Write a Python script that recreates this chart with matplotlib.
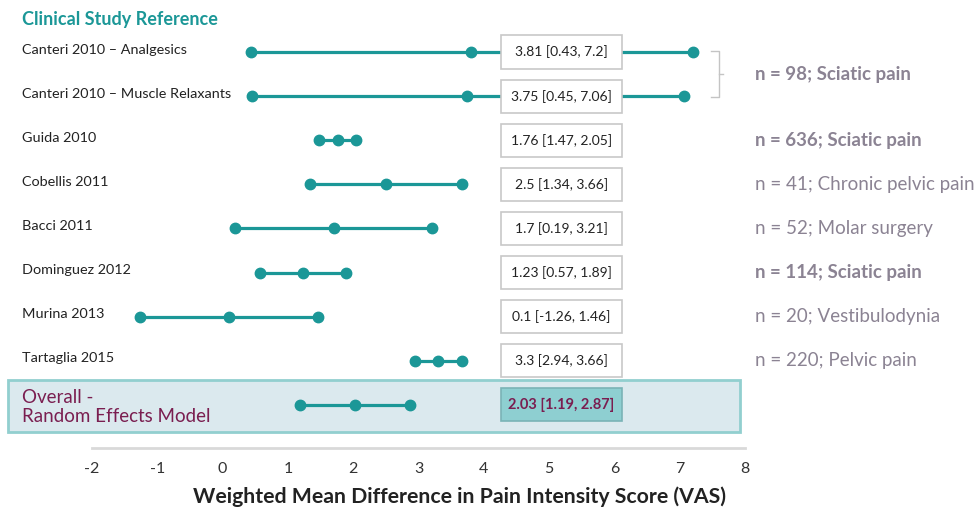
import matplotlib
matplotlib.use("Agg")
import matplotlib.pyplot as plt
import matplotlib.transforms as mtransforms
from matplotlib.patches import Rectangle

studies = ["Canteri 2010 \u2013 Analgesics", "Canteri 2010 \u2013 Muscle Relaxants",
           "Guida 2010", "Cobellis 2011", "Bacci 2011", "Dominguez 2012",
           "Murina 2013", "Tartaglia 2015"]
wmd = [3.81, 3.75, 1.76, 2.5, 1.7, 1.23, 0.1, 3.3]
ci_low = [0.43, 0.45, 1.47, 1.34, 0.19, 0.57, -1.26, 2.94]
ci_high = [7.2, 7.06, 2.05, 3.66, 3.21, 1.89, 1.46, 3.66]

overall_label = "Overall -\nRandom Effects Model"
overall = [1.19, 2.03, 2.87]

# right-hand notes: (row, text, bold)
notes = [(0.5, "n = 98; Sciatic pain", True),
         (2, "n = 636; Sciatic pain", True),
         (3, "n = 41; Chronic pelvic pain", False),
         (4, "n = 52; Molar surgery", False),
         (5, "n = 114; Sciatic pain", True),
         (6, "n = 20; Vestibulodynia", False),
         (7, "n = 220; Pelvic pain", False)]

xticks = list(range(-2, 9))

teal = "#1b9797"
maroon = "#7a1e50"
note_col = "#8b8393"
label_font = "Lato"

W, H = 978, 516
fig = plt.figure(figsize=(W / 100, H / 100), dpi=100)
ax = fig.add_axes([92 / W, 1 - 448 / H, (745 - 92) / W, 448 / H])
ax.set_zorder(2)
ax.set_xlim(-2, 8)
ax.set_ylim(8.98, -1.18)
ax.set_xticks(xticks)
ax.set_xticklabels([str(t) for t in xticks], fontsize=11.5, color="#333333",
                   family=label_font)
ax.tick_params(axis="x", length=0, pad=10)
ax.set_yticks([])
for s in ["top", "left", "right"]:
    ax.spines[s].set_visible(False)
ax.spines["bottom"].set_color("#d9d9d9")
ax.spines["bottom"].set_linewidth(2)
ax.patch.set_visible(False)

lab_tr = mtransforms.blended_transform_factory(fig.transFigure, ax.transData)
lab_x = 22 / W

# overall band, behind the axes
fig.patches.append(Rectangle((8 / W, 1 - 432 / H), (740 - 8) / W, 52 / H,
                             transform=fig.transFigure, facecolor="#dbe9ee",
                             edgecolor="#92cfcf", linewidth=2, zorder=-1))

box_x0, box_x1 = 4.27, 6.11
box_h = 0.75

for i, name in enumerate(studies):
    ax.plot([ci_low[i], ci_high[i]], [i, i], color=teal, lw=2.3, zorder=2,
            solid_capstyle="butt")
    ax.plot([ci_low[i], wmd[i], ci_high[i]], [i, i, i], "o", color=teal,
            markersize=7.5, zorder=3)
    ax.text(lab_x, i - 0.05, name, transform=lab_tr, fontsize=10.4, color="#222222",
            va="center", ha="left", family=label_font)
    ax.add_patch(Rectangle((box_x0, i - box_h / 2), box_x1 - box_x0, box_h,
                           facecolor="white", edgecolor="#c8c8c8", lw=1.2, zorder=4))
    ax.text((box_x0 + box_x1) / 2, i, f"{wmd[i]:g} [{ci_low[i]:g}, {ci_high[i]:g}]",
            fontsize=10, color="#222222", ha="center", va="center", zorder=5,
            family=label_font)

# overall row
r = 8
ax.plot([overall[0], overall[2]], [r, r], color=teal, lw=2.3, zorder=2)
ax.plot(overall, [r] * 3, "o", color=teal, markersize=7.5, zorder=3)
ax.text(lab_x, r + 0.05, overall_label, transform=lab_tr, fontsize=13.5, color=maroon,
        va="center", ha="left", family=label_font, linespacing=1.2)
ax.add_patch(Rectangle((box_x0, r - box_h / 2), box_x1 - box_x0, box_h,
                       facecolor="#8ecfd1", edgecolor="#7ab3b6", lw=1.2, zorder=4))
ax.text((box_x0 + box_x1) / 2, r,
        f"{overall[1]:g} [{overall[0]:g}, {overall[2]:g}]",
        fontsize=10.5, color=maroon, fontweight="bold", ha="center", va="center",
        zorder=5, family=label_font)

# bracket joining the two Canteri rows
bx0, bx1 = 7.48, 7.60
ax.plot([bx0, bx1, bx1, bx0], [-0.02, -0.02, 1.02, 1.02], color="#c4c4c4", lw=1,
        clip_on=False)
ax.plot([bx1, bx1 + 0.06], [0.5, 0.5], color="#c4c4c4", lw=1, clip_on=False)

note_x = 755 / W
for row, txt, bold in notes:
    ax.text(note_x, row, txt, transform=lab_tr, fontsize=13.5, color=note_col,
            va="center", ha="left", fontweight="bold" if bold else "normal",
            family=label_font)

fig.text(22 / W, 1 - 19 / H, "Clinical Study Reference", fontsize=13,
         color=teal, fontweight="bold", va="center", ha="left", family=label_font)
fig.text(460 / W, 1 - 497 / H, "Weighted Mean Difference in Pain Intensity Score (VAS)",
         fontsize=15.3, color="#222222", fontweight="bold", va="center", ha="center",
         family=label_font)

fig.savefig("out.png", dpi=100)
